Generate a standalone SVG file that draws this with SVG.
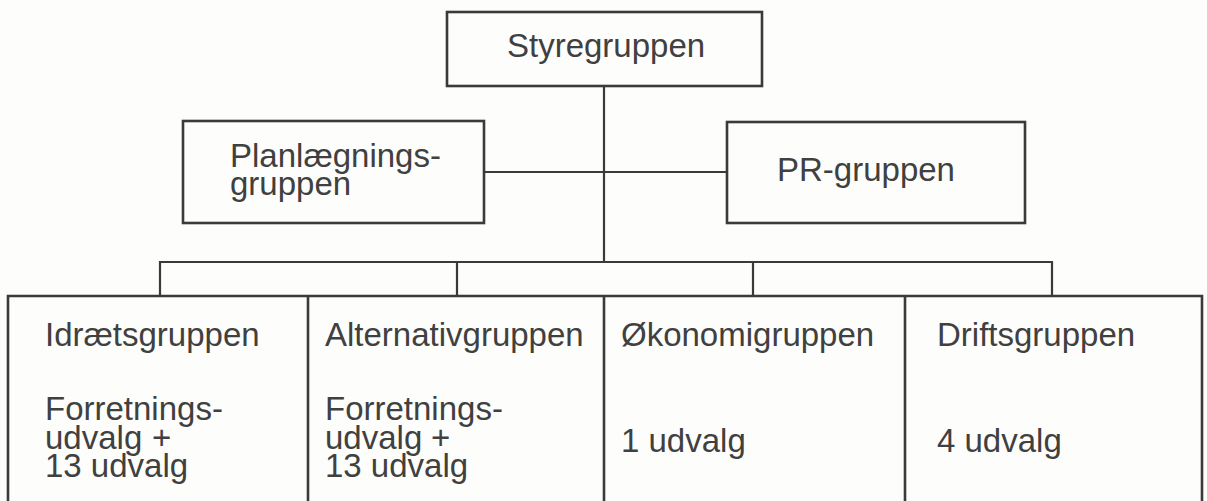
<svg xmlns="http://www.w3.org/2000/svg" width="1207" height="501" viewBox="0 0 1207 501">
<style>
.box{fill:none;stroke:#3a3a3a;stroke-width:2.6}
.ln{fill:none;stroke:#3a3a3a;stroke-width:2.2}
text{font-family:"Liberation Sans",Arial,sans-serif;font-size:33px;fill:#404040}
</style>
<rect width="1207" height="501" fill="#fdfdfb"/>
<g id="connectors">
<line class="ln" x1="604" y1="86" x2="604" y2="262"/>
<line class="ln" x1="484" y1="172" x2="727" y2="172"/>
<polyline class="ln" points="160,296 160,262 1052,262 1052,296"/>
<line class="ln" x1="457" y1="262" x2="457" y2="296"/>
<line class="ln" x1="753" y1="262" x2="753" y2="296"/>
</g>
<g id="styregruppen">
<rect class="box" x="447" y="12" width="315" height="74"/>
<text x="507" y="57">Styregruppen</text>
</g>
<g id="planlaegningsgruppen">
<rect class="box" x="183" y="121" width="301" height="102"/>
<text x="230" y="167">Planlægnings-</text>
<text x="230" y="195">gruppen</text>
</g>
<g id="pr-gruppen">
<rect class="box" x="727" y="122" width="298" height="101"/>
<text x="777" y="181">PR-gruppen</text>
</g>
<g id="bottom-row">
<polyline class="box" points="8,503 8,296 1202,296 1202,503"/>
</g>
<g id="idraetsgruppen">
<line class="box" x1="308" y1="296" x2="308" y2="503"/>
<text x="45" y="346">Idrætsgruppen</text>
<text x="45" y="420">Forretnings-</text>
<text x="45" y="449">udvalg<tspan x="152">+</tspan></text>
<text x="45" y="477">13 udvalg</text>
</g>
<g id="alternativgruppen">
<line class="box" x1="604" y1="296" x2="604" y2="503"/>
<text x="325" y="346">Alternativgruppen</text>
<text x="325" y="420">Forretnings-</text>
<text x="325" y="449">udvalg<tspan x="431">+</tspan></text>
<text x="325" y="477">13 udvalg</text>
</g>
<g id="okonomigruppen">
<line class="box" x1="905" y1="296" x2="905" y2="503"/>
<text x="621" y="346">Økonomigruppen</text>
<text x="621" y="452">1 udvalg</text>
</g>
<g id="driftsgruppen">
<text x="937" y="346">Driftsgruppen</text>
<text x="937" y="452">4 udvalg</text>
</g>
</svg>
